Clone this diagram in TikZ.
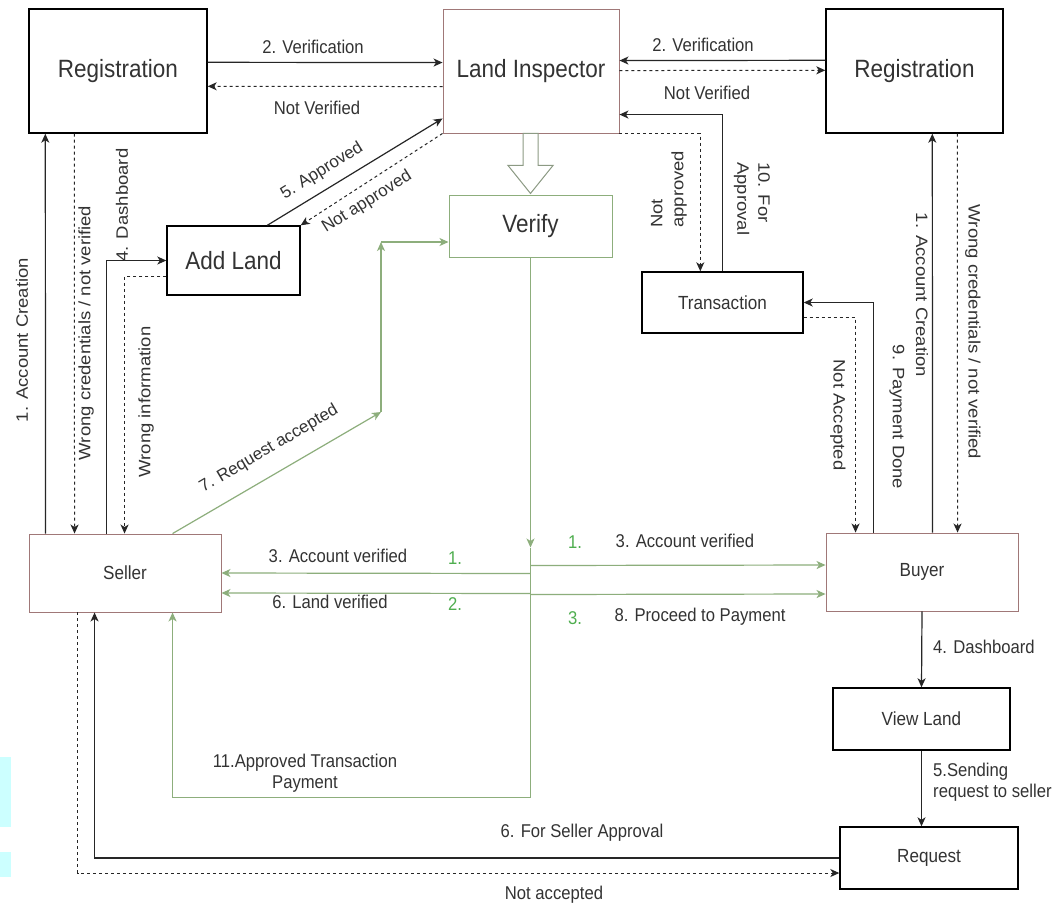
\documentclass[tikz,border=0pt]{standalone}
\usepackage{fontspec}
\setmainfont{Liberation Sans}
\newfontfamily\hfont[FakeStretch=0.9]{Liberation Sans}
\newfontfamily\vfont[FakeStretch=1.12]{Liberation Sans}
\usetikzlibrary{calc,arrows.meta}
\definecolor{txt}{HTML}{333333}
\definecolor{rb}{HTML}{A07878}
\definecolor{gl}{HTML}{8DAE7C}
\definecolor{gt}{HTML}{4FAE4F}
\definecolor{hol}{HTML}{8C9A84}
\definecolor{cy}{HTML}{CCFFFF}
\begin{document}
\begin{tikzpicture}[x=1pt,y=-1pt,
 box/.style={draw=black, line width=1.4pt, fill=white, text=txt, inner sep=0pt, font=\hfont\fontsize{19}{22}\selectfont},
 big/.style={font=\hfont\fontsize{25}{29}\selectfont},
 rbox/.style={box, draw=rb, line width=0.9pt},
 gbox/.style={box, draw=gl, line width=1pt},
 lbl/.style={text=txt, inner sep=1pt, font=\hfont\fontsize{18.5}{21}\selectfont},
 vlbl/.style={text=txt, inner sep=1pt, font=\vfont\fontsize{16.5}{21}\selectfont},
 dlbl/.style={text=txt, inner sep=1pt, font=\fontsize{17}{21}\selectfont},
 glbl/.style={text=gt, inner sep=1pt, font=\hfont\fontsize{18.5}{21}\selectfont},
 ah/.style={-{Stealth[length=9pt,width=8pt,inset=2.5pt]}},
 ln/.style={ah, line width=1.2pt, draw=black!85},
 dl/.style={ah, line width=1pt, draw=black!85, dash pattern=on 3pt off 3pt},
 gln/.style={ah, line width=1.2pt, draw=gl},
]
\useasboundingbox (0,0) rectangle (1063,906);
\fill[white] (0,0) rectangle (1063,906);
\fill[cy] (0,757) rectangle (11,827);
\fill[cy] (0,852) rectangle (11,877);

% nodes
\node[box, big, minimum width=178pt, minimum height=124pt] (regL) at (118,71) {Registration};
\node[rbox, big, minimum width=176pt, minimum height=124pt] (li) at (531,71) {Land Inspector};
\node[box, big, minimum width=177pt, minimum height=124pt] (regR) at (914.5,71) {Registration};
\node[box, big, minimum width=133pt, minimum height=69pt] (addland) at (233.5,260.5) {Add Land};
\node[gbox, big, minimum width=163pt, minimum height=62pt] (verify) at (530.5,226) {Verify};
\node[box, minimum width=161pt, minimum height=61pt] (trans) at (722.5,302.5) {Transaction};
\node[rbox, minimum width=192pt, minimum height=78pt] (seller) at (125,573) {Seller};
\node[rbox, minimum width=192pt, minimum height=78pt] (buyer) at (922,572) {Buyer};
\node[box, minimum width=177pt, minimum height=62pt] (viewland) at (921.5,719) {View Land};
\node[box, minimum width=178pt, minimum height=62pt] (request) at (929,858) {Request};

% hollow arrow Land Inspector -> Verify
\draw[hol, line width=1pt, fill=white] ($(li.south)+(-8,0)$) -- ++(15,0) -- ++(0,32) -- ++(15,0) -- ++(-22.5,28) -- ++(-22.5,-28) -- ++(15,0) -- cycle;

% left side
\draw[ln] ($(seller.north west)+(17,0)$) -- ($(regL.south west)+(17,0)$);
\node[vlbl, rotate=90] (lAC) at (22,340) {1. Account Creation};
\draw[dl] ($(regL.south west)+(46,0)$) -- ($(seller.north west)+(46,0)$);
\node[vlbl, rotate=90] (lWC) at (86,333) {Wrong credentials / not verified};
\draw[ln] ($(seller.north west)+(78,0)$) |- (addland.west);
\node[vlbl, rotate=90] (lDB) at (122,205) {4. Dashboard};
\draw[dl] ($(addland.west)+(0,16)$) -| ($(seller.north west)+(96,0)$);
\node[vlbl, rotate=90] (lWI) at (146,402) {Wrong information};
\draw[ln] ($(addland.north west)+(101,0)$) -- ($(li.south west)+(0,-15)$);
\node[dlbl, rotate=32] (lAp) at (322,171) {5. Approved};
\draw[dl] (li.south west) -- (addland.north east);
\node[dlbl, rotate=32] (lNA) at (367,202) {Not approved};

% top
\draw[ln] ($(regL.north east)+(0,54)$) -- ($(li.north west)+(0,54)$);
\node[lbl] (lV1) at (313,47) {2. Verification};
\draw[dl] ($(li.north west)+(0,78)$) -- ($(regL.north east)+(0,78)$);
\node[lbl] (lNV1) at (317,108) {Not Verified};
\draw[ln] ($(regR.north west)+(0,52)$) -- ($(li.north east)+(0,52)$);
\node[lbl] (lV2) at (703,45) {2. Verification};
\draw[dl] ($(li.north east)+(0,62)$) -- ($(regR.north west)+(0,62)$);
\node[lbl] (lNV2) at (707,93) {Not Verified};
\draw[ln] ($(trans.north west)+(81,0)$) |- ($(li.north east)+(0,106)$);
\node[vlbl, rotate=-90, align=left, anchor=west] (lFA) at (752,161) {10. For\\Approval};
\draw[dl] (li.south east) -| ($(trans.north west)+(59,0)$);
\node[vlbl, rotate=90, align=left, anchor=west] (lNAp) at (669,229) {Not\\approved};

% green
\coordinate (j) at ($(verify.south)+(0,290)$);
\draw[gln] (verify.south) -- (j);
\draw[gln] ($(j)+(0,26)$) -- (seller.east);
\draw[gln] ($(j)+(0,46)$) -- ($(seller.east)+(0,20)$);
\draw[gln] ($(j)+(0,18)$) -- ($(buyer.west)+(0,-7)$);
\draw[gln] ($(j)+(0,47)$) -- ($(buyer.west)+(0,22)$);
\draw[gln] (j) -- ($(j)+(0,250)$) -| ($(seller.south west)+(144,0)$);
\coordinate (g1) at (381,412);
\coordinate (g2) at (381,242);
\draw[gln] ($(seller.north west)+(144,0)$) -- (g1);
\draw[gln] (g1) -- (g2);
\draw[gln] (g2) -- ($(verify.west)+(0,16)$);
\node[dlbl, rotate=30.5] (lRA) at (269,449) {7. Request accepted};

\node[lbl] (lAV1) at (338,556) {3. Account verified};
\node[lbl] (lLV) at (330,602) {6. Land verified};
\node[lbl] (lAV2) at (685,541) {3. Account verified};
\node[lbl] (lPP) at (700,617) {8. Proceed to Payment};
\node[glbl] (n1a) at (455,558) {1.};
\node[glbl] (n2) at (455,604) {2.};
\node[glbl] (n1b) at (575,542) {1.};
\node[glbl] (n3) at (575,618) {3.};
\node[lbl, align=center] (lAT) at (305,773) {11.Approved Transaction\\Payment};

% right side
\draw[ln] ($(buyer.north west)+(107,0)$) -- ($(regR.south west)+(107,0)$);
\node[vlbl, rotate=-90] (lAC2) at (922,295) {1. Account Creation};
\draw[dl] ($(regR.south west)+(132,0)$) -- ($(buyer.north west)+(132,0)$);
\node[vlbl, rotate=-90] (lWC2) at (973,332) {Wrong credentials / not verified};
\draw[ln] ($(buyer.north west)+(48,0)$) |- (trans.east);
\node[vlbl, rotate=-90] (lPD) at (897,417) {9. Payment Done};
\draw[dl] ($(trans.east)+(0,15)$) -| ($(buyer.north west)+(30,0)$);
\node[vlbl, rotate=-90] (lNAc) at (838,415) {Not Accepted};

\draw[ln] (buyer.south) -- (viewland.north);
\node[lbl, anchor=west] (lDB2) at (932,647) {4. Dashboard};
\draw[ln] (viewland.south) -- (viewland.south |- request.north);
\node[lbl, align=left, anchor=west] (lSR) at (932,782) {5.Sending\\request to seller};

% bottom
\draw[ln] (request.west) -| ($(seller.south west)+(66,0)$);
\node[lbl] (lSA) at (582,833) {6. For Seller Approval};
\draw[dl] ($(seller.south west)+(49,0)$) |- ($(request.west)+(0,15)$);
\node[lbl] (lNAb) at (554,895) {Not accepted};
\end{tikzpicture}
\end{document}
